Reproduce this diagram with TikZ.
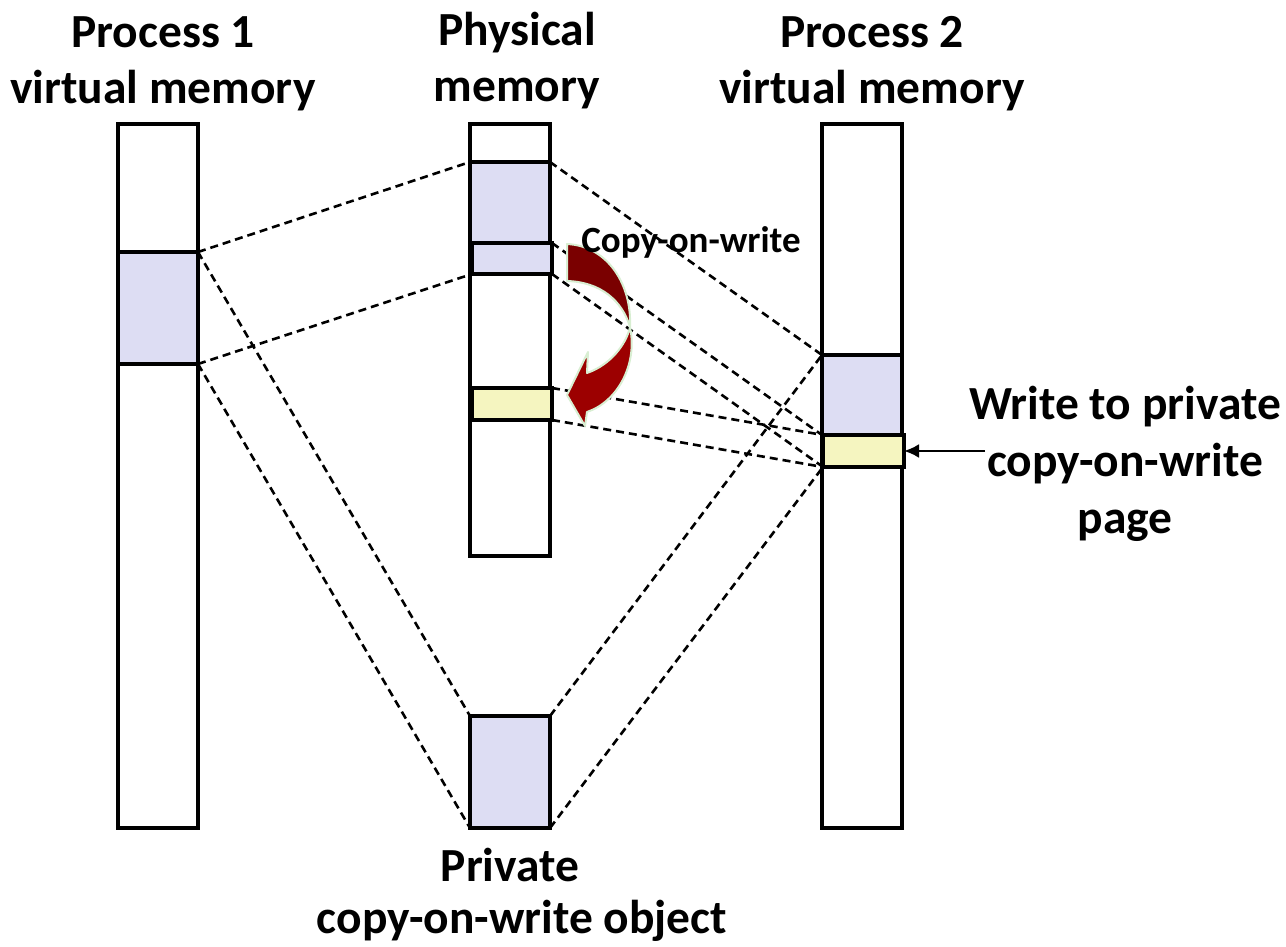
\documentclass[tikz,border=0pt]{standalone}
\usepackage{fontspec}
\setmainfont{Carlito}
\usetikzlibrary{arrows.meta}
\definecolor{lav}{HTML}{DDDDF3}
\definecolor{lyel}{HTML}{F5F5C0}
\definecolor{backred}{HTML}{7A0000}
\definecolor{frontred}{HTML}{9C0000}
\definecolor{glow}{HTML}{D8EED2}
\begin{document}
\begin{tikzpicture}[x=1pt,y=-1pt,
  col/.style={draw=black,line width=3.2pt,fill=white,inner sep=0pt,outer sep=0pt,anchor=north west},
  blk/.style={col,fill=lav},
  ylw/.style={col,fill=lyel},
  map/.style={dash pattern=on 8pt off 5pt,line width=2.6pt},
  big/.style={font=\fontsize{47.5}{56}\selectfont\bfseries,anchor=base,inner sep=0pt},
  small/.style={font=\fontsize{37}{42}\selectfont\bfseries,anchor=base,inner sep=0pt},
  cow/.style={draw=glow,line width=2pt,line join=round}]
\useasboundingbox (0,0) rectangle (1286,947);
% columns
\node[col,minimum width=80pt,minimum height=704pt] (p1) at (118,124) {};
\node[col,minimum width=80pt,minimum height=432pt] (ph) at (470,124) {};
\node[col,minimum width=80pt,minimum height=704pt] (p2) at (822,124) {};
% blocks
\node[blk,minimum width=80pt,minimum height=112pt] (p1A) at (118,252) {};
\node[blk,minimum width=80pt,minimum height=81pt] (phA) at (470,162) {};
\node[blk,minimum width=80pt,minimum height=31pt] (phB) at (472,243) {};
\node[ylw,minimum width=80pt,minimum height=32pt] (phY) at (472,388) {};
\node[blk,minimum width=80pt,minimum height=80pt] (p2A) at (822,355) {};
\node[ylw,minimum width=81pt,minimum height=32pt] (p2Y) at (823,435) {};
\node[blk,minimum width=80pt,minimum height=112pt] (obj) at (470,716) {};
% mappings
\draw[map] (p1A.north east) -- (phA.north west);
\draw[map] (p1A.south east) -- (phB.south west);
\draw[map] (p1A.north east) -- (obj.north west);
\draw[map] (p1A.south east) -- (obj.south west);
\draw[map] (phA.north east) -- (p2A.north west);
\draw[map] (phB.north east) -- (p2A.south west);
\draw[map] (phB.south east) -- (p2Y.south west);
\draw[map] (phY.north east) -- (p2Y.north west);
\draw[map] (phY.south east) -- (p2Y.south west);
\draw[map] (obj.north east) -- (p2A.north west);
\draw[map] (obj.south east) -- (p2Y.south west);
% copy-on-write curved arrow
\filldraw[cow,fill=backred] (567,244) .. controls (608,246) and (632,285) .. (630,327)
  .. controls (622,300) and (600,282) .. (567,281) -- cycle;
\filldraw[cow,fill=frontred] (630,327) .. controls (638,365) and (617,402) .. (587,412)
  -- (585,426) -- (567,395) -- (588,352) -- (587,373)
  .. controls (610,365) and (626,345) .. (630,327) -- cycle;
% write arrow
\coordinate (wsrc) at (985,451);
\draw[line width=2.4pt,-{Latex[length=15pt,width=14pt]}] (wsrc) -- (p2Y.east);
% labels
\node[big] (t1a) at (163,48) {Process 1};
\node[big] (t1b) at (163,104) {virtual memory};
\node[big] (t2a) at (517,46) {Physical};
\node[big] (t2b) at (517,102) {memory};
\node[big] (t3a) at (872,48) {Process 2};
\node[big] (t3b) at (872,104) {virtual memory};
\node[big] (w1) at (1125,419) {Write to private};
\node[big] (w2) at (1125,476) {copy-on-write};
\node[big] (w3) at (1125,533) {page};
\node[big] (o1) at (510,881) {Private};
\node[big] (o2) at (522,933) {copy-on-write object};
\node[small] (cw) at (691,252) {Copy-on-write};
\end{tikzpicture}
\end{document}
